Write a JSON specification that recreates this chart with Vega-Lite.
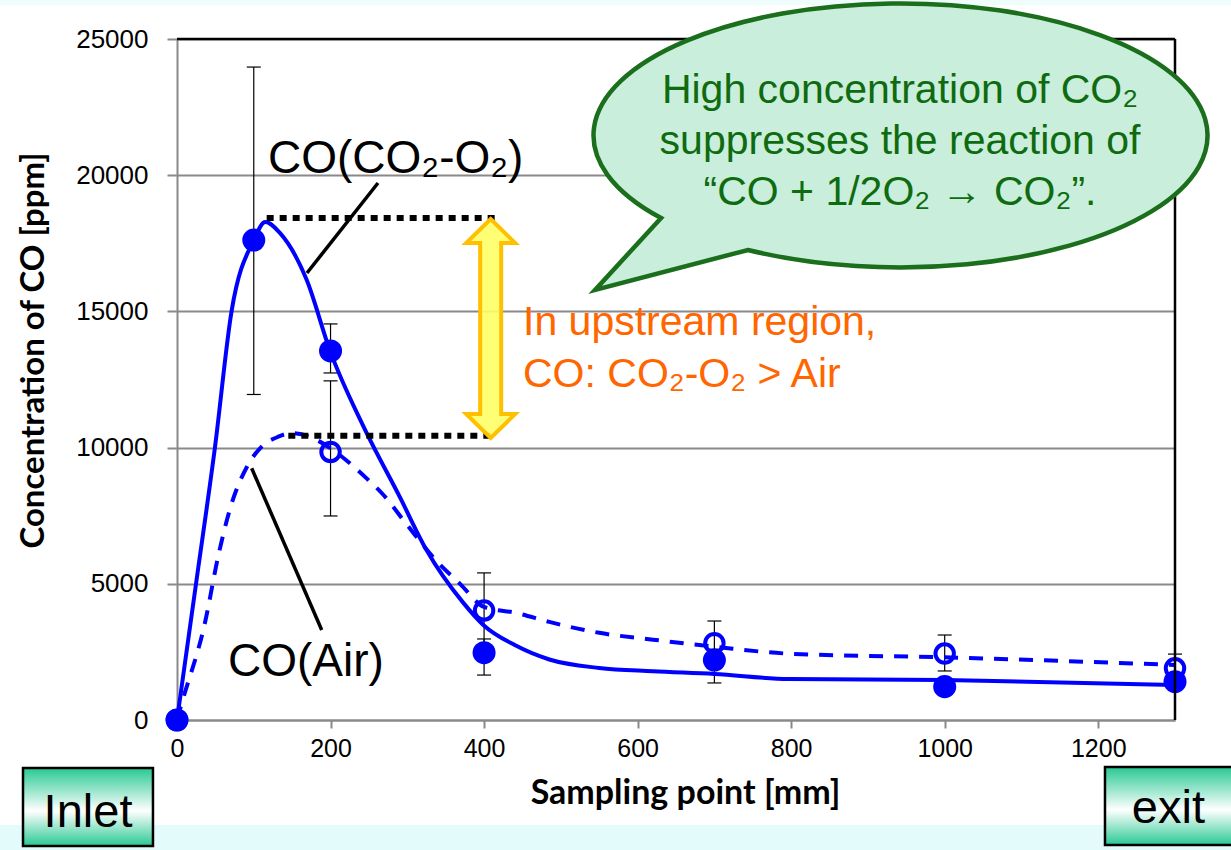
{
  "$schema": "https://vega.github.io/schema/vega-lite/v6.json",
  "width": 998,
  "height": 681,
  "autosize": "none",
  "padding": {"left": 177, "top": 39, "right": 56, "bottom": 130},
  "background": "white",
  "config": {"view": {"stroke": null}, "font": "Liberation Sans"},
  "datasets": {
    "pts": [
      {"x": 0, "co": 0, "s": "CO2-O2"},
      {"x": 100, "co": 17620, "s": "CO2-O2", "lo": 11950, "hi": 23970},
      {"x": 200, "co": 13550, "s": "CO2-O2", "lo": 12740, "hi": 14540},
      {"x": 400, "co": 2470, "s": "CO2-O2", "lo": 1650, "hi": 2975},
      {"x": 700, "co": 2200, "s": "CO2-O2", "lo": 1360, "hi": 2600},
      {"x": 1000, "co": 1225, "s": "CO2-O2", "lo": 1000, "hi": 1450},
      {"x": 1300, "co": 1405, "s": "CO2-O2", "lo": 1200, "hi": 1600},
      {"x": 0, "co": 0, "s": "Air"},
      {"x": 200, "co": 9840, "s": "Air", "lo": 7490, "hi": 12450},
      {"x": 400, "co": 4020, "s": "Air", "lo": 2650, "hi": 5400},
      {"x": 700, "co": 2820, "s": "Air", "lo": 2000, "hi": 3634},
      {"x": 1000, "co": 2440, "s": "Air", "lo": 1800, "hi": 3120},
      {"x": 1300, "co": 1900, "s": "Air", "lo": 1400, "hi": 2420}
    ],
    "curve": [
      {"x": 0, "co": 0, "s": "CO2-O2"},
      {"x": 25, "co": 5050, "s": "CO2-O2"},
      {"x": 49.5, "co": 10020, "s": "CO2-O2"},
      {"x": 71, "co": 14990, "s": "CO2-O2"},
      {"x": 100, "co": 17620, "s": "CO2-O2"},
      {"x": 115, "co": 18280, "s": "CO2-O2"},
      {"x": 134, "co": 17880, "s": "CO2-O2"},
      {"x": 169, "co": 16150, "s": "CO2-O2"},
      {"x": 199, "co": 13580, "s": "CO2-O2"},
      {"x": 243, "co": 10770, "s": "CO2-O2"},
      {"x": 290, "co": 8200, "s": "CO2-O2"},
      {"x": 325, "co": 6240, "s": "CO2-O2"},
      {"x": 373, "co": 4300, "s": "CO2-O2"},
      {"x": 399, "co": 3490, "s": "CO2-O2"},
      {"x": 440, "co": 2750, "s": "CO2-O2"},
      {"x": 485, "co": 2220, "s": "CO2-O2"},
      {"x": 550, "co": 1910, "s": "CO2-O2"},
      {"x": 620, "co": 1790, "s": "CO2-O2"},
      {"x": 700, "co": 1690, "s": "CO2-O2"},
      {"x": 797, "co": 1505, "s": "CO2-O2"},
      {"x": 1000, "co": 1468, "s": "CO2-O2"},
      {"x": 1300, "co": 1285, "s": "CO2-O2"},
      {"x": 0, "co": 0, "s": "Air"},
      {"x": 6, "co": 600, "s": "Air"},
      {"x": 36.5, "co": 3580, "s": "Air"},
      {"x": 54, "co": 6060, "s": "Air"},
      {"x": 71, "co": 7930, "s": "Air"},
      {"x": 91, "co": 9290, "s": "Air"},
      {"x": 110, "co": 10030, "s": "Air"},
      {"x": 132, "co": 10400, "s": "Air"},
      {"x": 149, "co": 10530, "s": "Air"},
      {"x": 182, "co": 10280, "s": "Air"},
      {"x": 199, "co": 9990, "s": "Air"},
      {"x": 247, "co": 8870, "s": "Air"},
      {"x": 269, "co": 8260, "s": "Air"},
      {"x": 300, "co": 7150, "s": "Air"},
      {"x": 338, "co": 5840, "s": "Air"},
      {"x": 369, "co": 4990, "s": "Air"},
      {"x": 400, "co": 4150, "s": "Air"},
      {"x": 442, "co": 3930, "s": "Air"},
      {"x": 485, "co": 3600, "s": "Air"},
      {"x": 550, "co": 3200, "s": "Air"},
      {"x": 620, "co": 2950, "s": "Air"},
      {"x": 700, "co": 2690, "s": "Air"},
      {"x": 800, "co": 2430, "s": "Air"},
      {"x": 1000, "co": 2300, "s": "Air"},
      {"x": 1300, "co": 2020, "s": "Air"}
    ]
  },
  "layer": [
    {
      "data": {"values": [{"k": 1}]},
      "layer": [
        {"mark": {"type": "rect", "fill": "#e4fbfb", "strokeWidth": 0},
         "encoding": {"x": {"datum": -240, "type": "quantitative"}, "x2": {"datum": 1400}, "y": {"datum": -3855, "type": "quantitative"}, "y2": {"datum": -5200}}},
        {"mark": {"type": "rect", "fill": "#effdfd", "strokeWidth": 0},
         "encoding": {"x": {"datum": -240, "type": "quantitative"}, "x2": {"datum": 1400}, "y": {"datum": 26250, "type": "quantitative"}, "y2": {"datum": 26600}}}
      ]
    },
    {
      "encoding": {
        "x": {
          "field": "x", "type": "quantitative",
          "scale": {"domain": [0, 1300], "nice": false, "zero": false},
          "axis": {
            "values": [0, 200, 400, 600, 800, 1000, 1200],
            "format": "d",
            "grid": false,
            "domainColor": "#898989", "domainWidth": 2,
            "tickColor": "#898989", "tickWidth": 2, "tickSize": 8,
            "labelFont": "Liberation Sans", "labelFontSize": 25, "labelColor": "black",
            "labelPadding": 8, "labelFlush": false,
            "title": "Sampling point [mm]",
            "titleFont": "Lato", "titleFontWeight": "bold", "titleFontSize": 34, "titleColor": "black",
            "titleX": 508, "titleY": 83, "titleBaseline": "alphabetic", "titleAlign": "center"
          }
        },
        "y": {
          "field": "co", "type": "quantitative",
          "scale": {"domain": [0, 25000], "nice": false},
          "axis": {
            "values": [0, 5000, 10000, 15000, 20000, 25000],
            "format": "d",
            "grid": true, "gridColor": "#898989", "gridWidth": 2,
            "domainColor": "#898989", "domainWidth": 2,
            "tickColor": "#898989", "tickWidth": 2, "tickSize": 10,
            "labelFont": "Liberation Sans", "labelFontSize": 26, "labelColor": "black",
            "labelPadding": 19,
            "title": "Concentration of CO [ppm]",
            "titleFont": "Lato", "titleFontWeight": "bold", "titleFontSize": 33, "titleColor": "black",
            "titleAngle": -90, "titleX": -144, "titleY": 311, "titleBaseline": "middle", "titleAlign": "center"
          }
        }
      },
      "layer": [
        {"data": {"name": "pts"}, "transform": [{"filter": "isValid(datum.lo)"}],
         "mark": {"type": "rule", "color": "black", "strokeWidth": 1.2},
         "encoding": {"y": {"field": "lo", "type": "quantitative"}, "y2": {"field": "hi"}}},
        {"data": {"name": "pts"}, "transform": [{"filter": "isValid(datum.lo)"}],
         "mark": {"type": "tick", "orient": "horizontal", "color": "black", "size": 14, "thickness": 1.2, "opacity": 1},
         "encoding": {"y": {"field": "lo", "type": "quantitative"}}},
        {"data": {"name": "pts"}, "transform": [{"filter": "isValid(datum.hi)"}],
         "mark": {"type": "tick", "orient": "horizontal", "color": "black", "size": 14, "thickness": 1.2, "opacity": 1},
         "encoding": {"y": {"field": "hi", "type": "quantitative"}}},
        {"data": {"name": "curve"}, "transform": [{"filter": "datum.s === 'CO2-O2'"}],
         "mark": {"type": "line", "color": "#0000ff", "strokeWidth": 4, "interpolate": "monotone"},
         "encoding": {"order": {"field": "x", "type": "quantitative"}}},
        {"data": {"name": "curve"}, "transform": [{"filter": "datum.s === 'Air'"}],
         "mark": {"type": "line", "color": "#0000ff", "strokeWidth": 4, "interpolate": "monotone", "strokeDash": [14, 11]},
         "encoding": {"order": {"field": "x", "type": "quantitative"}}},
        {"data": {"name": "pts"}, "transform": [{"filter": "datum.s === 'Air'"}],
         "mark": {"type": "point", "shape": "circle", "filled": false, "color": "#0000ff", "strokeWidth": 4, "size": 340, "opacity": 1}},
        {"data": {"name": "pts"}, "transform": [{"filter": "datum.s === 'CO2-O2'"}],
         "mark": {"type": "point", "shape": "circle", "filled": true, "color": "#0000ff", "size": 530, "opacity": 1}}
      ]
    },
    {
      "data": {"values": [{"k": 1}]},
      "layer": [
        {"mark": {"type": "rule", "color": "black", "strokeWidth": 2.5},
         "encoding": {"x": {"datum": 0, "type": "quantitative"}, "x2": {"datum": 1300}, "y": {"datum": 25000, "type": "quantitative"}}},
        {"mark": {"type": "rule", "color": "black", "strokeWidth": 2.5},
         "encoding": {"x": {"datum": 1300, "type": "quantitative"}, "y": {"datum": 0, "type": "quantitative"}, "y2": {"datum": 25000}}},
        {"mark": {"type": "rule", "color": "black", "strokeWidth": 6, "strokeDash": [7, 6]},
         "encoding": {"x": {"datum": 116.8, "type": "quantitative"}, "x2": {"datum": 420.7}, "y": {"datum": 18426, "type": "quantitative"}}},
        {"mark": {"type": "rule", "color": "black", "strokeWidth": 6, "strokeDash": [7, 6]},
         "encoding": {"x": {"datum": 145, "type": "quantitative"}, "x2": {"datum": 410}, "y": {"datum": 10437, "type": "quantitative"}}},
        {"mark": {"type": "rule", "color": "black", "strokeWidth": 3.5},
         "encoding": {"x": {"datum": 169.3, "type": "quantitative"}, "x2": {"datum": 261.8}, "y": {"datum": 16410, "type": "quantitative"}, "y2": {"datum": 19714}}},
        {"mark": {"type": "rule", "color": "black", "strokeWidth": 3.5},
         "encoding": {"x": {"datum": 97.3, "type": "quantitative"}, "x2": {"datum": 188.5}, "y": {"datum": 9240, "type": "quantitative"}, "y2": {"datum": 3304}}},
        {"mark": {"type": "point", "shape": "M0,-4.38L0.98,-3.42L0.42,-3.42L0.42,3.42L0.98,3.42L0,4.38L-0.98,3.42L-0.42,3.42L-0.42,-3.42L-0.98,-3.42Z",
                  "size": 2500, "filled": true, "fill": "#ffff66", "stroke": "#ffc000", "strokeWidth": 4, "opacity": 1, "fillOpacity": 0.9},
         "encoding": {"x": {"datum": 408.6, "type": "quantitative"}, "y": {"datum": 14372, "type": "quantitative"}}},
        {"mark": {"type": "text", "text": "CO(CO₂-O₂)", "font": "Liberation Sans", "fontSize": 46, "color": "black", "align": "left", "baseline": "alphabetic"},
         "encoding": {"x": {"datum": 118.5, "type": "quantitative"}, "y": {"datum": 20081, "type": "quantitative"}}},
        {"mark": {"type": "text", "text": "CO(Air)", "font": "Liberation Sans", "fontSize": 46, "color": "black", "align": "left", "baseline": "alphabetic"},
         "encoding": {"x": {"datum": 66.4, "type": "quantitative"}, "y": {"datum": 1615, "type": "quantitative"}}},
        {"mark": {"type": "text", "text": "In upstream region,", "font": "Liberation Sans", "fontSize": 41, "color": "#ff6600", "align": "left", "baseline": "alphabetic"},
         "encoding": {"x": {"datum": 450.7, "type": "quantitative"}, "y": {"datum": 14134, "type": "quantitative"}}},
        {"mark": {"type": "text", "text": "CO: CO₂-O₂ > Air", "font": "Liberation Sans", "fontSize": 41, "color": "#ff6600", "align": "left", "baseline": "alphabetic"},
         "encoding": {"x": {"datum": 450.7, "type": "quantitative"}, "y": {"datum": 12225, "type": "quantitative"}}},
        {"mark": {"type": "point", "shape": "M-0.788,0.264L-1.003,0.498L-0.505,0.368A1,0.43,0,1,0,-0.788,0.264Z",
                  "size": 376996, "filled": true, "fill": "#c9eedb", "stroke": "#1b6e1b", "strokeWidth": 4.5, "opacity": 1},
         "encoding": {"x": {"datum": 945.7, "type": "quantitative"}, "y": {"datum": 21403, "type": "quantitative"}}},
        {"mark": {"type": "text", "text": "High concentration of CO₂", "font": "Liberation Sans", "fontSize": 41, "color": "#0f6b0f", "align": "center", "baseline": "alphabetic"},
         "encoding": {"x": {"datum": 941.8, "type": "quantitative"}, "y": {"datum": 22651, "type": "quantitative"}}},
        {"mark": {"type": "text", "text": "suppresses the reaction of", "font": "Liberation Sans", "fontSize": 41, "color": "#0f6b0f", "align": "center", "baseline": "alphabetic"},
         "encoding": {"x": {"datum": 941.8, "type": "quantitative"}, "y": {"datum": 20778, "type": "quantitative"}}},
        {"mark": {"type": "text", "text": "“CO + 1/2O₂ → CO₂”.", "font": "Liberation Sans", "fontSize": 41, "color": "#0f6b0f", "align": "center", "baseline": "alphabetic"},
         "encoding": {"x": {"datum": 941.8, "type": "quantitative"}, "y": {"datum": 18906, "type": "quantitative"}}},
        {"mark": {"type": "rect", "stroke": "black", "strokeWidth": 2.5,
                  "fill": {"gradient": "linear", "x1": 0, "y1": 0, "x2": 0, "y2": 1,
                           "stops": [{"offset": 0, "color": "#28c993"}, {"offset": 0.55, "color": "#ffffff"}, {"offset": 1, "color": "#28c993"}]}},
         "encoding": {"x": {"datum": -200.6, "type": "quantitative"}, "x2": {"datum": -31.3}, "y": {"datum": -1762, "type": "quantitative"}, "y2": {"datum": -4626}}},
        {"mark": {"type": "rect", "stroke": "black", "strokeWidth": 2.5,
                  "fill": {"gradient": "linear", "x1": 0, "y1": 0, "x2": 0, "y2": 1,
                           "stops": [{"offset": 0, "color": "#28c993"}, {"offset": 0.55, "color": "#ffffff"}, {"offset": 1, "color": "#28c993"}]}},
         "encoding": {"x": {"datum": 1208.8, "type": "quantitative"}, "x2": {"datum": 1384.7}, "y": {"datum": -1725, "type": "quantitative"}, "y2": {"datum": -4589}}},
        {"mark": {"type": "text", "text": "Inlet", "font": "Liberation Sans", "fontSize": 47, "color": "black", "align": "center", "baseline": "alphabetic"},
         "encoding": {"x": {"datum": -115.9, "type": "quantitative"}, "y": {"datum": -3917, "type": "quantitative"}}},
        {"mark": {"type": "text", "text": "exit", "font": "Liberation Sans", "fontSize": 47, "color": "black", "align": "center", "baseline": "alphabetic"},
         "encoding": {"x": {"datum": 1291.4, "type": "quantitative"}, "y": {"datum": -3793, "type": "quantitative"}}}
      ]
    }
  ]
}
